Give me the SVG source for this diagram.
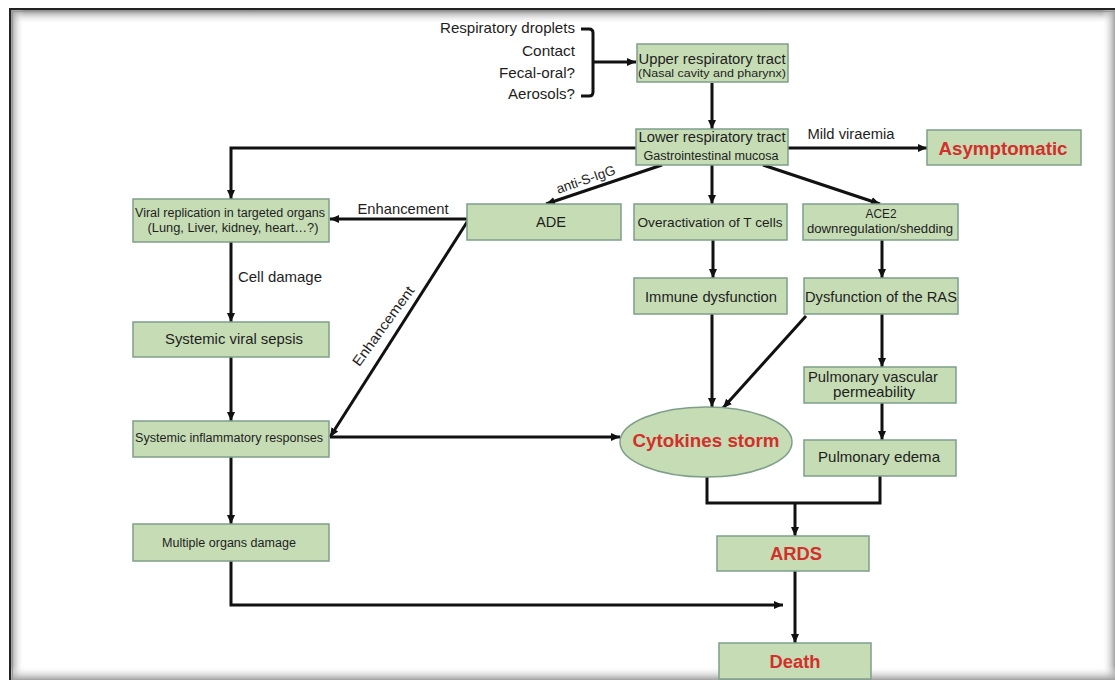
<svg xmlns="http://www.w3.org/2000/svg" width="1115" height="680" viewBox="0 0 1115 680">
<defs>
<marker id="ah" markerUnits="userSpaceOnUse" markerWidth="10" markerHeight="10" refX="9" refY="5" orient="auto">
<path d="M0,1 L9,5 L0,9 Z" fill="#111"/>
</marker>
<linearGradient id="gTop" x1="0" y1="0" x2="0" y2="1">
<stop offset="0" stop-color="#8a8a8a"/><stop offset="1" stop-color="#ffffff" stop-opacity="0"/>
</linearGradient>
<linearGradient id="gLeft" x1="0" y1="0" x2="1" y2="0">
<stop offset="0" stop-color="#8a8a8a"/><stop offset="1" stop-color="#ffffff" stop-opacity="0"/>
</linearGradient>
<linearGradient id="gRight" x1="1" y1="0" x2="0" y2="0">
<stop offset="0" stop-color="#a0a0a0"/><stop offset="1" stop-color="#ffffff" stop-opacity="0"/>
</linearGradient>
<linearGradient id="gBot" x1="0" y1="1" x2="0" y2="0">
<stop offset="0" stop-color="#a0a0a0"/><stop offset="1" stop-color="#ffffff" stop-opacity="0"/>
</linearGradient>
</defs>
<style>
.box{fill:#c6dcb5;stroke:#7f9e8a;stroke-width:1.5}
.t{font-family:"Liberation Sans",Arial,sans-serif;fill:#1e1e1e;text-anchor:middle}
.e{font-family:"Liberation Sans",Arial,sans-serif;fill:#1e1e1e;text-anchor:end}
.r{font-family:"Liberation Sans",Arial,sans-serif;fill:#d42f2a;font-weight:bold;text-anchor:middle}
.c{fill:none;stroke:#111;stroke-width:3}
.a{fill:none;stroke:#111;stroke-width:3;marker-end:url(#ah)}
</style>
<rect width="1115" height="680" fill="#ffffff"/>
<g id="frame">
<rect x="10" y="10" width="1105" height="14" fill="url(#gTop)"/>
<rect x="10" y="10" width="14" height="670" fill="url(#gLeft)"/>
<rect x="1102" y="10" width="13" height="670" fill="url(#gRight)"/>
<rect x="10" y="666" width="1105" height="14" fill="url(#gBot)"/>
<path d="M10,680 V9 H1115" fill="none" stroke="#222" stroke-width="2"/>
<path d="M12.5,680 V11.5 H1115" fill="none" stroke="#999" stroke-width="1"/>
</g>
<g id="connectors">
<path class="c" d="M581,29 H589 Q593,29 593,33 V92 Q593,96 589,96 H581"/>
<path class="a" d="M593,62 H636"/>
<path class="a" d="M712,83 V129"/>
<path class="a" d="M788,148 H927"/>
<path class="a" d="M636,148 H231 V199"/>
<path class="a" d="M712,165 V204"/>
<path class="a" d="M662,165 L546,204"/>
<path class="a" d="M763,165 L880,204"/>
<path class="a" d="M469,219 H330"/>
<path class="a" d="M469,219 L330,437"/>
<path class="a" d="M231,242 V322"/>
<path class="a" d="M231,357 V421"/>
<path class="a" d="M231,457 V524"/>
<path class="a" d="M330,437 H620"/>
<path class="a" d="M713,240 V278"/>
<path class="a" d="M882,240 V278"/>
<path class="a" d="M712,314 V407"/>
<path class="a" d="M806,316 L723,408"/>
<path class="a" d="M882,314 V367"/>
<path class="a" d="M882,403 V440"/>
<path class="c" d="M707,477 V503 H880 V476"/>
<path class="a" d="M795,503 V536"/>
<path class="a" d="M795,571 V643"/>
<path class="a" d="M231,561 V605 H783"/>
</g>
<g id="sources">
<text class="e" x="575" y="33" font-size="14.5" textLength="135" lengthAdjust="spacingAndGlyphs">Respiratory droplets</text>
<text class="e" x="575" y="56" font-size="14.5" textLength="53" lengthAdjust="spacingAndGlyphs">Contact</text>
<text class="e" x="575" y="78" font-size="14.5" textLength="76" lengthAdjust="spacingAndGlyphs">Fecal-oral?</text>
<text class="e" x="575" y="99" font-size="14.5" textLength="67" lengthAdjust="spacingAndGlyphs">Aerosols?</text>
</g>
<g id="upper">
<rect class="box" x="637" y="44" width="151" height="38"/>
<text class="t" x="712" y="64" font-size="14" textLength="147" lengthAdjust="spacingAndGlyphs">Upper respiratory tract</text>
<text class="t" x="712" y="77" font-size="11.5" textLength="148" lengthAdjust="spacingAndGlyphs">(Nasal cavity and pharynx)</text>
</g>
<g id="lower">
<rect class="box" x="636" y="129" width="152" height="36"/>
<text class="t" x="712" y="142" font-size="14" textLength="147" lengthAdjust="spacingAndGlyphs">Lower respiratory tract</text>
<text class="t" x="711" y="160" font-size="12.5" textLength="135" lengthAdjust="spacingAndGlyphs">Gastrointestinal mucosa</text>
</g>
<text class="t" x="851" y="139" font-size="14" textLength="87" lengthAdjust="spacingAndGlyphs">Mild viraemia</text>
<g id="asymptomatic">
<rect class="box" x="927" y="130" width="154" height="35"/>
<text class="r" x="1003" y="155" font-size="18" textLength="129" lengthAdjust="spacingAndGlyphs">Asymptomatic</text>
</g>
<text class="t" x="586" y="184" font-size="13.5" transform="rotate(-19 586 180)">anti-S-IgG</text>
<g id="viral">
<rect class="box" x="133" y="199" width="196" height="43"/>
<text class="t" x="230" y="217" font-size="12" textLength="190" lengthAdjust="spacingAndGlyphs">Viral replication in targeted organs</text>
<text class="t" x="233" y="232" font-size="12.5" textLength="171" lengthAdjust="spacingAndGlyphs">(Lung, Liver, kidney, heart…?)</text>
</g>
<text class="t" x="403" y="214" font-size="14.5" textLength="91" lengthAdjust="spacingAndGlyphs">Enhancement</text>
<g id="ade">
<rect class="box" x="467" y="204" width="154" height="36"/>
<text class="t" x="551" y="227" font-size="14.5" textLength="30" lengthAdjust="spacingAndGlyphs">ADE</text>
</g>
<g id="tcells">
<rect class="box" x="634" y="204" width="153" height="36"/>
<text class="t" x="710" y="227" font-size="13.5" textLength="145" lengthAdjust="spacingAndGlyphs">Overactivation of T cells</text>
</g>
<g id="ace2">
<rect class="box" x="803" y="204" width="155" height="36"/>
<text class="t" x="881" y="218" font-size="13.5" textLength="31" lengthAdjust="spacingAndGlyphs">ACE2</text>
<text class="t" x="880" y="233" font-size="13" textLength="146" lengthAdjust="spacingAndGlyphs">downregulation/shedding</text>
</g>
<text class="t" x="280" y="282" font-size="14.5" textLength="84" lengthAdjust="spacingAndGlyphs">Cell damage</text>
<g id="immune">
<rect class="box" x="634" y="278" width="153" height="36"/>
<text class="t" x="711" y="302" font-size="14.5" textLength="132" lengthAdjust="spacingAndGlyphs">Immune dysfunction</text>
</g>
<g id="ras">
<rect class="box" x="804" y="278" width="154" height="36"/>
<text class="t" x="881" y="302" font-size="14.5" textLength="152" lengthAdjust="spacingAndGlyphs">Dysfunction of the RAS</text>
</g>
<g id="sepsis">
<rect class="box" x="133" y="322" width="196" height="35"/>
<text class="t" x="234" y="344" font-size="14.5" textLength="138" lengthAdjust="spacingAndGlyphs">Systemic viral sepsis</text>
</g>
<text class="t" x="383" y="331" font-size="14" textLength="95" lengthAdjust="spacingAndGlyphs" transform="rotate(-54 383 326)">Enhancement</text>
<g id="inflammatory">
<rect class="box" x="133" y="421" width="196" height="36"/>
<text class="t" x="229" y="442" font-size="12.5" textLength="188" lengthAdjust="spacingAndGlyphs">Systemic inflammatory responses</text>
</g>
<g id="pvp">
<rect class="box" x="804" y="367" width="152" height="36"/>
<text class="t" x="873" y="382" font-size="14.5" textLength="130" lengthAdjust="spacingAndGlyphs">Pulmonary vascular</text>
<text class="t" x="874" y="397" font-size="14.5" textLength="82" lengthAdjust="spacingAndGlyphs">permeability</text>
</g>
<g id="cytokines">
<ellipse cx="706" cy="442" rx="86" ry="35" fill="#c6dcb5" stroke="#7f9e8a" stroke-width="1.5"/>
<text class="r" x="706" y="447" font-size="19" textLength="147" lengthAdjust="spacingAndGlyphs">Cytokines storm</text>
</g>
<g id="edema">
<rect class="box" x="804" y="440" width="152" height="36"/>
<text class="t" x="879" y="462" font-size="14.5" textLength="122" lengthAdjust="spacingAndGlyphs">Pulmonary edema</text>
</g>
<g id="multiple">
<rect class="box" x="133" y="524" width="196" height="37"/>
<text class="t" x="229" y="547" font-size="12.5" textLength="134" lengthAdjust="spacingAndGlyphs">Multiple organs damage</text>
</g>
<g id="ards">
<rect class="box" x="717" y="536" width="152" height="35"/>
<text class="r" x="796" y="560" font-size="18" textLength="52" lengthAdjust="spacingAndGlyphs">ARDS</text>
</g>
<g id="death">
<rect class="box" x="719" y="643" width="152" height="36"/>
<text class="r" x="795" y="668" font-size="18" textLength="51" lengthAdjust="spacingAndGlyphs">Death</text>
</g>
</svg>
